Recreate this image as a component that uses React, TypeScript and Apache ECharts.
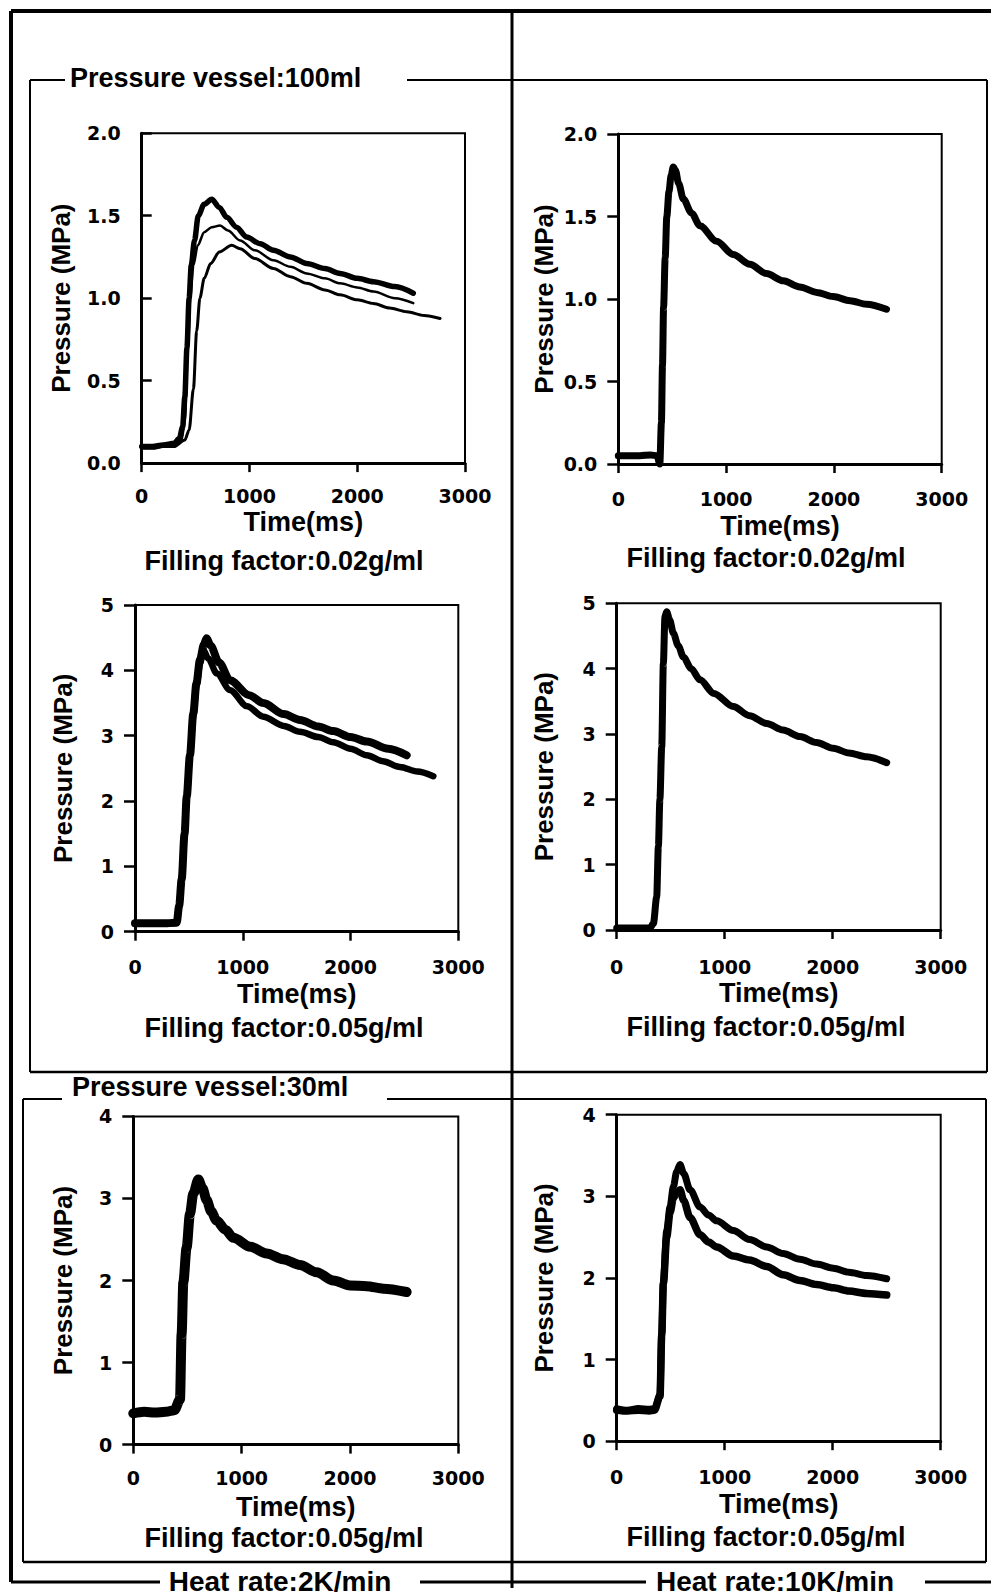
import React, { useEffect, useRef } from "react";
import * as echarts from "echarts";

// ---------- data ----------
const timeTicks = [0, 1000, 2000, 3000];

// Panel 1: 100 ml, 2 K/min, 0.02 g/ml (three runs)
const p1aT = [0, 100, 200, 300, 350, 380, 400, 420, 440, 460, 490, 525, 580, 650, 720, 790, 880, 974, 1100, 1222, 1380, 1531, 1700, 1841, 2000, 2150, 2350, 2520];
const p1aV = [0.10, 0.10, 0.11, 0.12, 0.15, 0.22, 0.40, 0.70, 1.00, 1.20, 1.35, 1.50, 1.57, 1.60, 1.55, 1.49, 1.43, 1.37, 1.33, 1.29, 1.25, 1.21, 1.18, 1.15, 1.12, 1.10, 1.07, 1.03];
const p1bT = [0, 100, 200, 300, 370, 400, 430, 450, 480, 520, 580, 650, 727, 800, 913, 1050, 1222, 1380, 1531, 1700, 1841, 2000, 2150, 2350, 2520];
const p1bV = [0.10, 0.10, 0.10, 0.11, 0.14, 0.25, 0.70, 1.00, 1.20, 1.32, 1.40, 1.43, 1.44, 1.41, 1.35, 1.29, 1.23, 1.19, 1.15, 1.12, 1.09, 1.065, 1.04, 1.00, 0.97];
const p1cT = [0, 100, 200, 300, 400, 440, 480, 510, 540, 580, 640, 720, 835, 913, 1050, 1222, 1380, 1531, 1700, 1841, 2000, 2150, 2300, 2460, 2620, 2769];
const p1cV = [0.09, 0.09, 0.10, 0.10, 0.14, 0.20, 0.45, 0.80, 1.00, 1.12, 1.21, 1.28, 1.32, 1.30, 1.24, 1.18, 1.13, 1.09, 1.05, 1.02, 0.99, 0.968, 0.94, 0.918, 0.895, 0.877];

// Panel 2: 100 ml, 10 K/min, 0.02 g/ml
const p2T = [0, 100, 200, 300, 360, 385, 400, 410, 420, 435, 450, 470, 490, 510, 530, 560, 603, 680, 757, 912, 1066, 1220, 1375, 1530, 1684, 1840, 1993, 2150, 2303, 2488];
const p2V = [0.05, 0.05, 0.05, 0.055, 0.05, 0.0, 0.25, 0.60, 0.95, 1.25, 1.50, 1.65, 1.75, 1.80, 1.78, 1.70, 1.606, 1.52, 1.444, 1.35, 1.27, 1.21, 1.154, 1.11, 1.073, 1.04, 1.015, 0.99, 0.968, 0.938];

// Panel 3: 100 ml, 2 K/min, 0.05 g/ml (two runs)
const p3aT = [0, 100, 200, 300, 387, 410, 433, 460, 480, 510, 541, 570, 603, 640, 665, 700, 780, 881, 1060, 1191, 1380, 1531, 1700, 1840, 2000, 2150, 2350, 2521];
const p3aV = [0.13, 0.13, 0.13, 0.13, 0.14, 0.40, 0.80, 1.50, 2.07, 2.70, 3.34, 3.80, 4.16, 4.40, 4.49, 4.38, 4.12, 3.85, 3.62, 3.50, 3.33, 3.24, 3.14, 3.07, 2.98, 2.91, 2.80, 2.70];
const p3bT = [0, 100, 200, 300, 387, 410, 433, 460, 480, 510, 541, 570, 603, 634, 680, 760, 881, 1040, 1191, 1380, 1531, 1700, 1840, 2000, 2150, 2300, 2459, 2620, 2768];
const p3bV = [0.12, 0.12, 0.12, 0.12, 0.13, 0.40, 0.80, 1.50, 2.07, 2.70, 3.30, 3.75, 4.10, 4.31, 4.18, 3.95, 3.70, 3.45, 3.29, 3.15, 3.06, 2.98, 2.90, 2.80, 2.70, 2.61, 2.52, 2.45, 2.38];

// Panel 4: 100 ml, 10 K/min, 0.05 g/ml
const p4T = [0, 100, 200, 309, 340, 370, 386, 400, 417, 432, 447, 463, 490, 525, 570, 617, 690, 771, 900, 1080, 1230, 1389, 1540, 1697, 1850, 2006, 2150, 2315, 2500];
const p4V = [0.03, 0.03, 0.03, 0.03, 0.10, 0.50, 1.28, 2.00, 2.80, 4.08, 4.80, 4.87, 4.75, 4.54, 4.35, 4.18, 4.00, 3.83, 3.62, 3.42, 3.28, 3.16, 3.06, 2.96, 2.87, 2.78, 2.71, 2.65, 2.56];

// Panel 5: 30 ml, 2 K/min, 0.05 g/ml
const p5T = [0, 100, 200, 300, 380, 431, 446, 462, 492, 523, 554, 600, 640, 677, 720, 769, 850, 923, 1080, 1231, 1380, 1538, 1692, 1846, 2000, 2154, 2308, 2523];
const p5V = [0.38, 0.40, 0.39, 0.40, 0.42, 0.55, 1.35, 1.98, 2.40, 2.81, 3.06, 3.23, 3.12, 2.98, 2.84, 2.73, 2.62, 2.52, 2.41, 2.33, 2.26, 2.19, 2.10, 2.00, 1.94, 1.93, 1.90, 1.86];

// Panel 6: 30 ml, 10 K/min, 0.05 g/ml (two runs)
const p6T = [0, 100, 200, 300, 350, 401, 417, 432, 463, 494, 525, 555, 586, 620, 679, 772, 850, 926, 1080, 1230, 1389, 1540, 1697, 1850, 2006, 2150, 2315, 2500];
const p6aV = [0.40, 0.38, 0.40, 0.39, 0.40, 0.57, 1.32, 1.95, 2.58, 2.87, 3.12, 3.30, 3.39, 3.28, 3.08, 2.87, 2.77, 2.70, 2.58, 2.47, 2.38, 2.30, 2.23, 2.17, 2.12, 2.07, 2.03, 1.99];
const p6bV = [0.38, 0.37, 0.38, 0.37, 0.38, 0.55, 1.30, 1.93, 2.50, 2.80, 2.98, 3.04, 3.08, 2.95, 2.74, 2.53, 2.44, 2.38, 2.27, 2.22, 2.14, 2.04, 1.97, 1.92, 1.88, 1.84, 1.81, 1.79];

const captions = [
  "Filling factor:0.02g/ml",
  "Filling factor:0.02g/ml",
  "Filling factor:0.05g/ml",
  "Filling factor:0.05g/ml",
  "Filling factor:0.05g/ml",
  "Filling factor:0.05g/ml",
];
const groupLabels = ["Pressure vessel:100ml", "Pressure vessel:30ml"];
const rateLabels = ["Heat rate:2K/min", "Heat rate:10K/min"];

// ---------- layout ----------
const zip = (t: number[], v: number[]) => t.map((x, i) => [x, v[i]]);

const panels = [
  { rect: [141.7, 133.2, 323.3, 329.9], yMax: 2, yInt: 0.5, dec: 1, inside: true, lm: 23, ng: 45, yg: 68, cap: [284, 561],
    series: [{ d: zip(p1aT, p1aV), w: 5.5 }, { d: zip(p1bT, p1bV), w: 2.5 }, { d: zip(p1cT, p1cV), w: 3 }] },
  { rect: [618.3, 134, 323.4, 330], yMax: 2, yInt: 0.5, dec: 1, inside: false, lm: 25, ng: 48, yg: 61, cap: [766, 558],
    series: [{ d: zip(p2T, p2V), w: 7 }] },
  { rect: [135, 605, 323.3, 326.7], yMax: 5, yInt: 1, dec: 0, inside: false, lm: 26, ng: 49, yg: 59, cap: [284, 1028],
    series: [{ d: zip(p3aT, p3aV), w: 8 }, { d: zip(p3bT, p3bV), w: 6.5 }] },
  { rect: [616.7, 603.3, 324, 326.7], yMax: 5, yInt: 1, dec: 0, inside: false, lm: 27, ng: 49, yg: 60, cap: [766, 1027],
    series: [{ d: zip(p4T, p4V), w: 7 }] },
  { rect: [133.3, 1116.4, 325, 328.2], yMax: 4, yInt: 1, dec: 0, inside: false, lm: 24, ng: 49, yg: 57, cap: [284, 1538],
    series: [{ d: zip(p5T, p5V), w: 10 }] },
  { rect: [616.7, 1114.7, 324, 326.5], yMax: 4, yInt: 1, dec: 0, inside: false, lm: 26, ng: 49, yg: 60, cap: [766, 1537],
    series: [{ d: zip(p6T, p6aV), w: 7 }, { d: zip(p6T, p6bV), w: 7.5 }] },
];

const tickFont = { fontFamily: "DejaVu Sans", fontWeight: "bold" as const, fontSize: 19, color: "#000" };
const capFont = "bold 27px 'Liberation Sans'";

function line(x1: number, y1: number, x2: number, y2: number, w: number) {
  return { type: "line", shape: { x1, y1, x2, y2 }, style: { stroke: "#000", lineWidth: w }, silent: true };
}
function text(s: string, x: number, y: number, font: string, align: string) {
  return {
    type: "text", x, y, silent: true,
    style: { text: s, font, fill: "#000", align, verticalAlign: "middle", textAlign: align, textVerticalAlign: "middle" },
  };
}

function buildOption() {
  const grid: any[] = [];
  const xAxis: any[] = [];
  const yAxis: any[] = [];
  const series: any[] = [];
  panels.forEach((p, i) => {
    const [l, t, w, h] = p.rect;
    grid.push({ left: l, top: t, width: w, height: h, show: true, borderColor: "#000", borderWidth: 2, backgroundColor: "transparent" });
    xAxis.push({
      type: "value", gridIndex: i, min: timeTicks[0], max: timeTicks[timeTicks.length - 1], interval: 1000,
      name: "Time(ms)", nameLocation: "middle", nameGap: p.ng,
      nameTextStyle: { fontFamily: "Liberation Sans", fontWeight: "bold", fontSize: 27, color: "#000" },
      axisLine: { show: true, onZero: false, lineStyle: { color: "#000", width: 3 } },
      axisTick: { show: true, inside: false, length: 9, lineStyle: { color: "#000", width: 2.5 } },
      axisLabel: { ...tickFont, margin: p.lm, showMaxLabel: true, showMinLabel: true, formatter: (v: number) => String(v) },
      splitLine: { show: false },
    });
    yAxis.push({
      type: "value", gridIndex: i, min: 0, max: p.yMax, interval: p.yInt,
      name: "Pressure (MPa)", nameLocation: "middle", nameGap: p.yg, nameRotate: 90,
      nameTextStyle: { fontFamily: "Liberation Sans", fontWeight: "bold", fontSize: 26, color: "#000" },
      axisLine: { show: true, onZero: false, lineStyle: { color: "#000", width: 3 } },
      axisTick: { show: true, inside: p.inside, length: p.inside ? 10 : 11, lineStyle: { color: "#000", width: 2.5 } },
      axisLabel: { ...tickFont, margin: 21, formatter: (v: number) => v.toFixed(p.dec) },
      splitLine: { show: false },
    });
    p.series.forEach((s) => {
      series.push({
        type: "line", xAxisIndex: i, yAxisIndex: i, data: s.d, showSymbol: false, symbol: "none",
        smooth: 0.3, smoothMonotone: "x", clip: false,
        lineStyle: { color: "#000", width: s.w, cap: "round", join: "round" },
      });
    });
  });

  const graphic: any[] = [
    // outer frame
    line(11, 11, 991, 11, 4),
    line(11, 11, 11, 1582, 4),
    line(11, 1582, 160, 1582, 3),
    line(420, 1582, 646, 1582, 3),
    line(925, 1582, 991, 1582, 3),
    // heat-rate divider
    line(512, 11, 512, 1588, 3),
    // 100 ml box
    line(30, 80, 65, 80, 2),
    line(407, 80, 987, 80, 2),
    line(30, 80, 30, 1072, 2),
    line(987, 80, 987, 1072, 2),
    line(30, 1072, 987, 1072, 2.5),
    // 30 ml box
    line(23, 1099, 62, 1099, 2),
    line(387, 1099, 986, 1099, 2),
    line(23, 1099, 23, 1562, 2),
    line(986, 1099, 986, 1562, 2),
    line(23, 1562, 986, 1562, 2.5),
    text(groupLabels[0], 70, 78, capFont, "left"),
    text(groupLabels[1], 72, 1087, capFont, "left"),
    text(rateLabels[0], 280, 1581, "bold 28px 'Liberation Sans'", "center"),
    text(rateLabels[1], 775, 1581, "bold 28px 'Liberation Sans'", "center"),
  ];
  panels.forEach((p, i) => {
    graphic.push(text(captions[i], p.cap[0], p.cap[1], capFont, "center"));
  });

  return { animation: false, backgroundColor: "#fff", grid, xAxis, yAxis, series, graphic };
}

export default function App() {
  const ref = useRef<HTMLDivElement>(null);
  useEffect(() => {
    if (!ref.current) return;
    const chart = echarts.init(ref.current, null, { renderer: "svg" });
    chart.setOption(buildOption() as any);
    return () => chart.dispose();
  }, []);
  return (
    <div
      ref={ref}
      style={{ position: "absolute", left: 0, top: 0, width: 991, height: 1596, background: "#fff" }}
    />
  );
}
